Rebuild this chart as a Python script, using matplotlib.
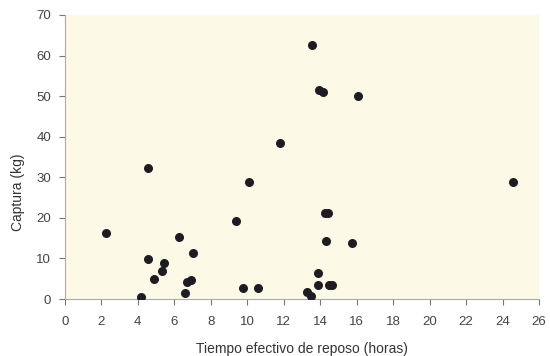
import matplotlib
matplotlib.use("Agg")
import matplotlib.pyplot as plt

# tiempo efectivo de reposo (horas) vs captura (kg)
tiempo = [2.25, 4.55, 4.55, 4.2, 4.9, 5.3, 5.45, 6.25, 6.6, 6.7, 6.9, 7.05,
          9.4, 9.75, 10.1, 10.6, 11.8, 13.55, 13.95, 14.15, 16.05,
          14.25, 14.45, 14.3, 15.75, 13.9, 13.9, 14.5, 14.65, 13.3, 13.5, 24.6]
captura = [16.3, 32.3, 9.9, 0.5, 4.9, 6.9, 8.9, 15.3, 1.5, 4.2, 4.7, 11.4,
           19.3, 2.7, 28.8, 2.7, 38.4, 62.7, 51.5, 50.9, 50.0,
           21.3, 21.3, 14.4, 13.8, 6.4, 3.4, 3.4, 3.4, 1.7, 0.8, 28.8]

xticks = list(range(0, 27, 2))
yticks = list(range(0, 71, 10))

plt.rcParams['font.family'] = ['Liberation Sans', 'DejaVu Sans']

fig = plt.figure(figsize=(5.5, 3.56), dpi=100)
ax = fig.add_axes([0.118, 0.160, 0.862, 0.798])
ax.set_facecolor('#fcf9e6')

ax.scatter(tiempo, captura, s=30, color='#1c1c22', zorder=3)

ax.set_xlim(0, 26)
ax.set_ylim(0, 70)
ax.set_xticks(xticks)
ax.set_yticks(yticks)
ax.tick_params(colors='#777777', labelcolor='#444444', labelsize=9.5,
               length=4, width=0.8, direction='out')
ax.tick_params(axis='x', pad=8)
ax.tick_params(axis='y', pad=6)
for s in ['top', 'right']:
    ax.spines[s].set_visible(False)
for s in ['left', 'bottom']:
    ax.spines[s].set_color('#aaaaaa')
    ax.spines[s].set_linewidth(0.8)

ax.set_xlabel('Tiempo efectivo de reposo (horas)', fontsize=10, color='#333333', labelpad=10)
ax.set_ylabel('Captura (kg)', fontsize=10, color='#333333')
ax.yaxis.set_label_coords(-0.084, 0.377)

fig.savefig('out.png', dpi=100, facecolor='white')
